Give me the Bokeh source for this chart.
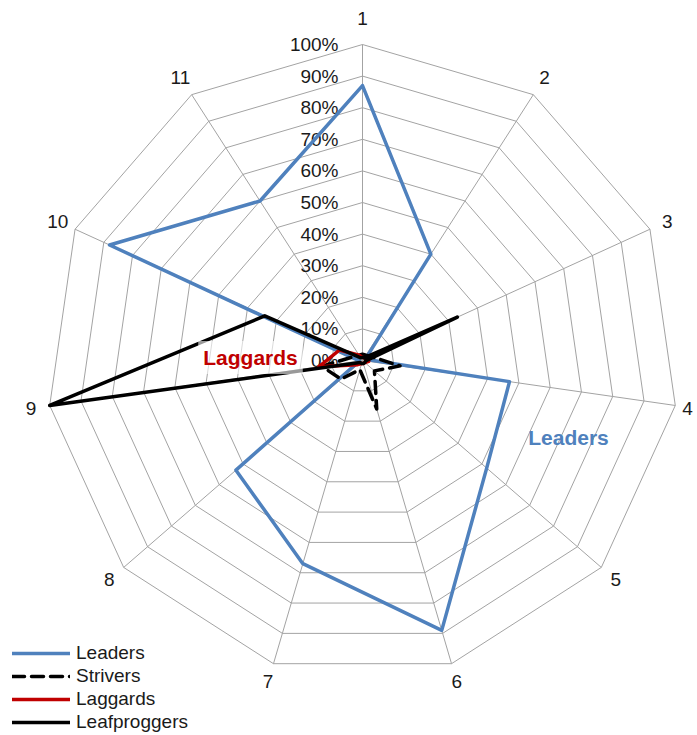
import numpy as np
from bokeh.plotting import figure
from bokeh.models import Range1d, Label, Legend, LegendItem
from bokeh.core.properties import value
from bokeh.embed import file_html
from bokeh.resources import INLINE

# ---------------- data ----------------
categories = ["1", "2", "3", "4", "5", "6", "7", "8", "9", "10", "11"]
leaders = [87, 40, 1, 47, 52, 89, 67, 53, 1, 88, 60]
strivers = [2, 2, 3, 12, 5, 16, 3, 9, 13, 3, 2]
laggards = [1, 1, 1, 2, 1, 1, 1, 2, 14, 8, 2]
leafproggers = [1, 1, 33, 1, 1, 1, 1, 1, 100, 34, 1]
ring_ticks = [0, 10, 20, 30, 40, 50, 60, 70, 80, 90, 100]
ring_labels = [f"{t}%" for t in ring_ticks]

# ---------------- geometry ----------------
W, H = 697, 735
CX, CY = 362, 360          # centre of the radar in plot pixels (from top-left)
R = 316                    # radius of the 100% ring in pixels
S = R / 100.0
n = len(categories)
theta = 2 * np.pi * np.arange(n) / n

FONT = "Liberation Sans"
GRID = "#A3A3A3"

p = figure(width=W, height=H, x_range=Range1d(-CX, W - CX), y_range=Range1d(-(H - CY), CY),
           output_backend="svg", toolbar_location=None, min_border=0)
p.axis.visible = False
p.grid.visible = False
p.outline_line_color = None
p.background_fill_color = "white"
p.border_fill_color = "white"


def polar(vals):
    v = np.asarray(vals, dtype=float) * S
    xs = v * np.sin(theta)
    ys = v * np.cos(theta)
    return list(xs) + [xs[0]], list(ys) + [ys[0]]


# rings
ring_xs, ring_ys = [], []
for t in ring_ticks[1:]:
    xs, ys = polar([t] * n)
    ring_xs.append(xs)
    ring_ys.append(ys)
p.multi_line(ring_xs, ring_ys, line_color=GRID, line_width=1)

# spokes
sp_xs = [[0, R * np.sin(a)] for a in theta]
sp_ys = [[0, R * np.cos(a)] for a in theta]
p.multi_line(sp_xs, sp_ys, line_color=GRID, line_width=1)

# ring labels
p.text(x=[-24] * len(ring_ticks), y=[t * S for t in ring_ticks], text=ring_labels,
       text_align="right", text_baseline="middle", text_font=value(FONT),
       text_font_size="19px", text_color="#1a1a1a")

# category labels (kept inside the canvas)
lab_r = np.array([335 + 7 * max(0.0, np.cos(a)) ** 8 for a in theta])
lab_x = np.clip(lab_r * np.sin(theta), -CX + 8, W - CX - 10)
lab_y = lab_r * np.cos(theta)
p.text(x=list(lab_x), y=list(lab_y), text=categories,
       text_align="center", text_baseline="middle", text_font=value(FONT),
       text_font_size="19px", text_color="#1a1a1a")

# series
x, y = polar(leaders)
r_lead = p.line(x, y, line_color="#4F81BD", line_width=3.5, line_join="round", line_cap="round")
x, y = polar(strivers)
r_striv = p.line(x, y, line_color="black", line_width=3.5, line_dash="12 7", line_join="round", line_cap="round")
x, y = polar(laggards)
r_lag = p.line(x, y, line_color="#C00000", line_width=3.5, line_join="round", line_cap="round")
x, y = polar(leafproggers)
r_leaf = p.line(x, y, line_color="black", line_width=3.5, line_join="round", line_cap="round")

# in-chart labels
p.add_layout(Label(x=206, y=-77, text="Leaders", text_align="center", text_baseline="middle",
                   text_font=FONT, text_font_size="21px", text_font_style="bold",
                   text_color="#4F81BD"))
p.add_layout(Label(x=-112, y=3, text="Laggards", text_align="center", text_baseline="middle",
                   text_font=FONT, text_font_size="21px", text_font_style="bold",
                   text_color="#C00000", background_fill_color="white",
                   background_fill_alpha=0.6, padding=5))

legend = Legend(items=[LegendItem(label="Leaders", renderers=[r_lead]),
                       LegendItem(label="Strivers", renderers=[r_striv]),
                       LegendItem(label="Laggards", renderers=[r_lag]),
                       LegendItem(label="Leafproggers", renderers=[r_leaf])],
                location=(12, 2), orientation="vertical", glyph_width=58, glyph_height=22,
                label_height=22, spacing=1, padding=0, margin=0, label_standoff=6,
                border_line_color=None, background_fill_alpha=0,
                label_text_font=FONT, label_text_font_size="19px", label_text_color="#1a1a1a")
p.add_layout(legend)

open("out.html", "w").write(file_html(p, INLINE))
